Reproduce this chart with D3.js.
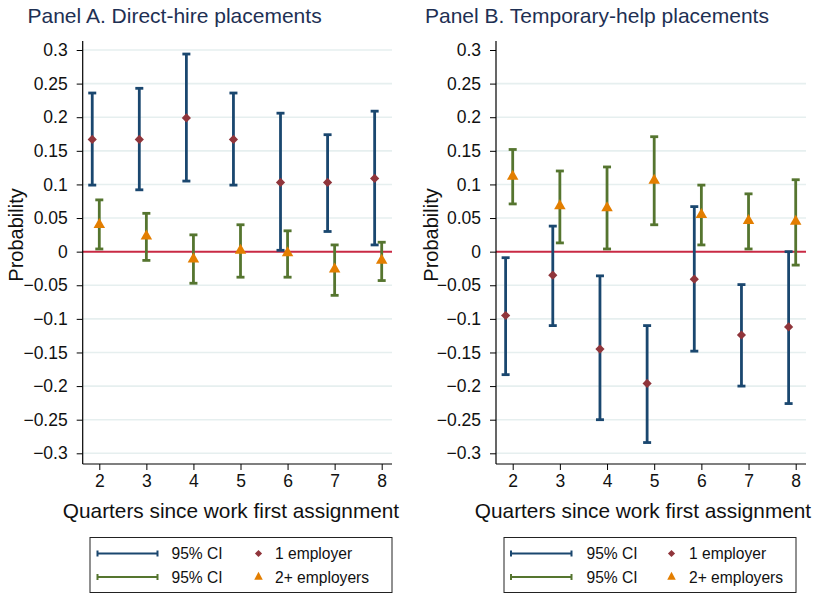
<!DOCTYPE html>
<html>
<head>
<meta charset="utf-8">
<script src="https://cdn.jsdelivr.net/npm/d3@7"></script>
<style>
  html, body { margin: 0; padding: 0; background: #fff; }
  svg { display: block; font-family: "Liberation Sans", Arial, Helvetica, sans-serif; }
</style>
</head>
<body>
<svg id="chart" width="816" height="594"></svg>
<script>
// ---------- data ----------
const quarters = [2, 3, 4, 5, 6, 7, 8];
const yTicks = [0.3, 0.25, 0.2, 0.15, 0.1, 0.05, 0, -0.05, -0.1, -0.15, -0.2, -0.25, -0.3];

// Panel A: Direct-hire placements
const aOneEst = [0.167, 0.167, 0.199, 0.167, 0.103, 0.103, 0.109];
const aOneLo  = [0.099, 0.092, 0.105, 0.099, 0.002, 0.030, 0.010];
const aOneHi  = [0.236, 0.243, 0.294, 0.236, 0.206, 0.174, 0.209];
const aTwoEst = [0.040, 0.023, -0.011, 0.002, -0.002, -0.026, -0.013];
const aTwoLo  = [0.004, -0.013, -0.047, -0.038, -0.038, -0.065, -0.043];
const aTwoHi  = [0.077, 0.057, 0.025, 0.040, 0.031, 0.010, 0.014];

// Panel B: Temporary-help placements
const bOneEst = [-0.095, -0.035, -0.145, -0.196, -0.041, -0.124, -0.112];
const bOneLo  = [-0.183, -0.110, -0.250, -0.284, -0.148, -0.200, -0.226];
const bOneHi  = [-0.009, 0.038, -0.036, -0.110, 0.067, -0.049, 0.000];
const bTwoEst = [0.112, 0.068, 0.065, 0.106, 0.055, 0.046, 0.045];
const bTwoLo  = [0.071, 0.013, 0.004, 0.040, 0.010, 0.004, -0.020];
const bTwoHi  = [0.152, 0.120, 0.126, 0.171, 0.099, 0.086, 0.107];

const panelTitles = ["Panel A. Direct-hire placements", "Panel B. Temporary-help placements"];
const xTitle = "Quarters since work first assignment";
const yTitle = "Probability";
const legendCI = "95% CI";
const legendSeries = ["1 employer", "2+ employers"];

// ---------- style ----------
const C = {
  blue: "#1a476f", maroon: "#90353b", green: "#55752f", orange: "#e37e00",
  zero: "#c92a44", grid: "#e6efef", title: "#1e3053"
};
const offsetOne = -0.15; // horizontal dodge for "1 employer"

const svg = d3.select("#chart");

const panels = [
  { title: panelTitles[0], left: 82.7, right: 392, x0: 99.3, x1: 381.7, titleX: 27.5,
    yLabX: 23, xTitleX: 231, grid03: true,
    one: { est: aOneEst, lo: aOneLo, hi: aOneHi }, two: { est: aTwoEst, lo: aTwoLo, hi: aTwoHi },
    legend: { x: 90, w: 302, lineX0: 97.5, lineX1: 157.5, textX: 171.5, mX: 258.5, mTextX: 275 } },
  { title: panelTitles[1], left: 496, right: 806, x0: 512.7, x1: 795.7, titleX: 425,
    yLabX: 438, xTitleX: 643, grid03: false,
    one: { est: bOneEst, lo: bOneLo, hi: bOneHi }, two: { est: bTwoEst, lo: bTwoLo, hi: bTwoHi },
    legend: { x: 504, w: 292, lineX0: 511, lineX1: 571.5, textX: 586.5, mX: 671.5, mTextX: 689 } }
];

const plotTop = 41, plotBottom = 464;
const y = d3.scaleLinear().domain([-0.3, 0.3]).range([453.3, 50]);

function diamondPath(r) { return `M0,${-r}L${r},0L0,${r}L${-r},0Z`; }
function trianglePath(w, h) { return `M0,${-h*2/3}L${w/2},${h/3}L${-w/2},${h/3}Z`; }

panels.forEach(p => {
  const x = d3.scaleLinear().domain([2, 8]).range([p.x0, p.x1]);
  const g = svg.append("g");

  // gridlines
  g.append("g").selectAll("line")
    .data(yTicks.filter(t => t !== 0 && (p.grid03 || t !== 0.3)))
    .join("line")
    .attr("x1", p.left).attr("x2", p.right)
    .attr("y1", d => y(d)).attr("y2", d => y(d))
    .attr("stroke", C.grid).attr("stroke-width", 1.6);

  // zero line
  g.append("line")
    .attr("x1", p.left).attr("x2", p.right)
    .attr("y1", y(0)).attr("y2", y(0))
    .attr("stroke", C.zero).attr("stroke-width", 2);

  // y axis
  const ya = d3.axisLeft(y).tickValues(yTicks).tickSize(6).tickPadding(9)
    .tickFormat(d3.format("~g"));
  const yg = g.append("g").attr("transform", `translate(${p.left},0)`).call(ya);
  yg.select(".domain").remove();
  yg.selectAll(".tick line").attr("stroke", "#000");
  yg.selectAll(".tick text").attr("font-size", 17.5).attr("fill", "#111")
    .attr("font-family", "Liberation Sans, Arial, sans-serif");
  g.append("line").attr("x1", p.left).attr("x2", p.left).attr("y1", plotTop).attr("y2", plotBottom)
    .attr("stroke", "#000").attr("stroke-width", 1.2);

  // x axis
  const xa = d3.axisBottom(x).tickValues(quarters).tickSize(6).tickPadding(5)
    .tickFormat(d3.format("d"));
  const xg = g.append("g").attr("transform", `translate(0,${plotBottom})`).call(xa);
  xg.select(".domain").remove();
  xg.selectAll(".tick line").attr("stroke", "#000");
  xg.selectAll(".tick text").attr("font-size", 17.5).attr("fill", "#111")
    .attr("font-family", "Liberation Sans, Arial, sans-serif");
  g.append("line").attr("x1", p.left).attr("x2", p.right).attr("y1", plotBottom).attr("y2", plotBottom)
    .attr("stroke", "#000").attr("stroke-width", 1.2);

  // CIs
  function drawCI(series, color, off) {
    const cg = g.append("g").attr("stroke", color).attr("stroke-width", 2.8).attr("fill", "none");
    const d = quarters.map((q, i) => ({ q, lo: series.lo[i], hi: series.hi[i] }));
    cg.selectAll("line.v").data(d).join("line").attr("class", "v")
      .attr("x1", e => x(e.q + off)).attr("x2", e => x(e.q + off))
      .attr("y1", e => y(e.lo)).attr("y2", e => y(e.hi));
    cg.selectAll("line.ct").data(d).join("line").attr("class", "ct")
      .attr("x1", e => x(e.q + off) - 4).attr("x2", e => x(e.q + off) + 4)
      .attr("y1", e => y(e.hi)).attr("y2", e => y(e.hi));
    cg.selectAll("line.cb").data(d).join("line").attr("class", "cb")
      .attr("x1", e => x(e.q + off) - 4).attr("x2", e => x(e.q + off) + 4)
      .attr("y1", e => y(e.lo)).attr("y2", e => y(e.lo));
  }
  drawCI(p.one, C.blue, offsetOne);
  drawCI(p.two, C.green, 0);

  // point estimates
  g.append("g").selectAll("path").data(quarters.map((q, i) => ({ q, v: p.one.est[i] })))
    .join("path")
    .attr("d", diamondPath(4.6))
    .attr("transform", e => `translate(${x(e.q + offsetOne)},${y(e.v)})`)
    .attr("fill", C.maroon);
  g.append("g").selectAll("path").data(quarters.map((q, i) => ({ q, v: p.two.est[i] })))
    .join("path")
    .attr("d", trianglePath(11.5, 10))
    .attr("transform", e => `translate(${x(e.q)},${y(e.v)})`)
    .attr("fill", C.orange);

  // titles
  svg.append("text").attr("x", p.titleX).attr("y", 23).attr("font-size", 21)
    .attr("fill", C.title).text(p.title);
  svg.append("text").attr("transform", `translate(${p.yLabX},235) rotate(-90)`)
    .attr("text-anchor", "middle").attr("font-size", 20).attr("fill", "#111").text(yTitle);
  svg.append("text").attr("x", p.xTitleX).attr("y", 518).attr("text-anchor", "middle")
    .attr("font-size", 20.8).attr("fill", "#111").text(xTitle);

  // legend
  const L = p.legend;
  const lg = svg.append("g");
  lg.append("rect").attr("x", L.x).attr("y", 537.5).attr("width", L.w).attr("height", 55)
    .attr("fill", "#fff").attr("stroke", "#222").attr("stroke-width", 1);
  [[553.5, C.blue], [577, C.green]].forEach(([ry, col]) => {
    lg.append("line").attr("x1", L.lineX0).attr("x2", L.lineX1).attr("y1", ry).attr("y2", ry)
      .attr("stroke", col).attr("stroke-width", 2);
    [L.lineX0, L.lineX1].forEach(cx => lg.append("line").attr("x1", cx).attr("x2", cx)
      .attr("y1", ry - 3).attr("y2", ry + 3).attr("stroke", col).attr("stroke-width", 2));
    lg.append("text").attr("x", L.textX).attr("y", ry + 5.5).attr("font-size", 15.6)
      .attr("fill", "#111").text(legendCI);
  });
  lg.append("path").attr("d", diamondPath(3.6)).attr("transform", `translate(${L.mX},553.5)`)
    .attr("fill", C.maroon);
  lg.append("path").attr("d", trianglePath(8.5, 8)).attr("transform", `translate(${L.mX},577)`)
    .attr("fill", C.orange);
  lg.append("text").attr("x", L.mTextX).attr("y", 559).attr("font-size", 15.6).attr("fill", "#111")
    .text(legendSeries[0]);
  lg.append("text").attr("x", L.mTextX).attr("y", 582.5).attr("font-size", 15.6).attr("fill", "#111")
    .text(legendSeries[1]);
});
</script>
</body>
</html>
